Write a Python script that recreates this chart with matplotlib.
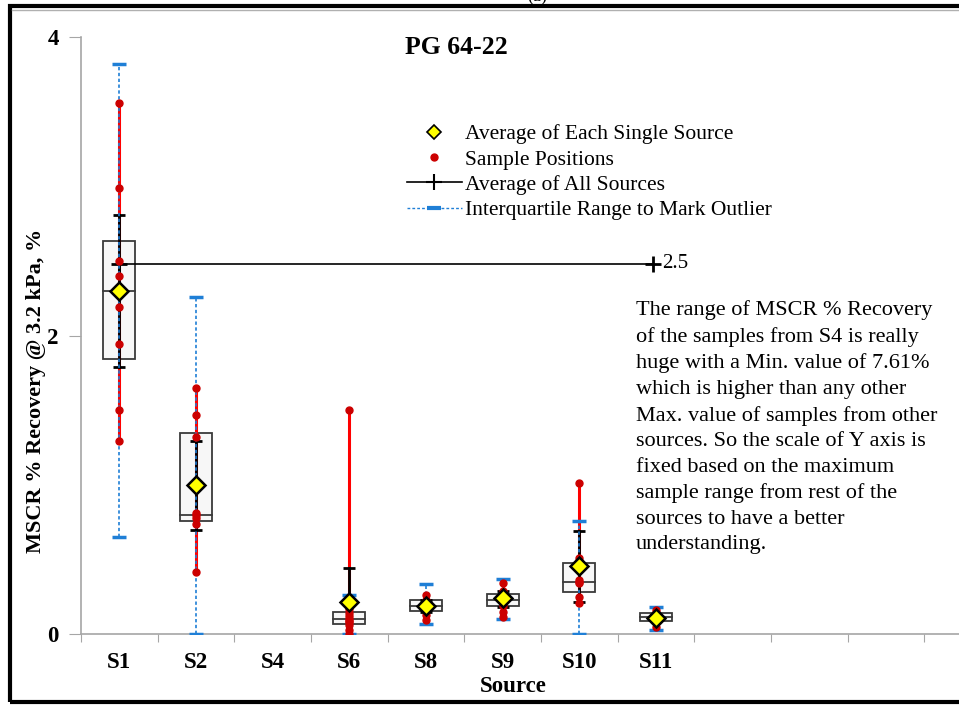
import matplotlib.pyplot as plt
from matplotlib.patches import Rectangle
from matplotlib.lines import Line2D

plt.rcParams['font.family'] = ['Liberation Serif', 'DejaVu Serif']

# categories (12 slots on the axis, only the first 8 are labelled)
sources = ['S1', 'S2', 'S4', 'S6', 'S8', 'S9', 'S10', 'S11', '', '', '', '']

# sample values
s1 = [3.56, 2.99, 2.50, 2.40, 2.30, 2.19, 1.94, 1.50, 1.29]
s2 = [1.65, 1.47, 1.32, 0.81, 0.80, 0.78, 0.74, 0.415]
s4 = []
s6 = [1.50, 0.17, 0.14, 0.12, 0.10, 0.09, 0.08, 0.06, 0.03, 0.0]
s8 = [0.26, 0.23, 0.21, 0.19, 0.18, 0.16, 0.13, 0.094]
s9 = [0.34, 0.29, 0.26, 0.25, 0.23, 0.21, 0.19, 0.15, 0.115]
s10 = [1.01, 0.51, 0.48, 0.36, 0.35, 0.34, 0.25, 0.21]
s11 = [0.16, 0.14, 0.12, 0.11, 0.10, 0.08, 0.05]
samples = [s1, s2, s4, s6, s8, s9, s10, s11]

q1 = [1.84, 0.76, None, 0.067, 0.154, 0.188, 0.28, 0.087]
median = [2.30, 0.80, None, 0.10, 0.188, 0.228, 0.35, 0.113]
q3 = [2.63, 1.35, None, 0.147, 0.228, 0.268, 0.475, 0.14]
avg = [2.30, 1.00, None, 0.215, 0.19, 0.24, 0.456, 0.11]
whisk_lo = [1.79, 0.70, None, 0.0, 0.15, 0.18, 0.215, 0.09]
whisk_hi = [2.81, 1.29, None, 0.44, 0.23, 0.29, 0.69, 0.13]
fence_lo = [0.65, 0.0, None, 0.0, 0.067, 0.10, 0.0, 0.03]
fence_hi = [3.82, 2.26, None, 0.26, 0.335, 0.367, 0.76, 0.18]
avg_all = 2.48
avg_all_x = [1, 7.96]

note = ("The range of MSCR % Recovery\n"
        "of the samples from S4 is really\n"
        "huge with a Min. value of 7.61%\n"
        "which is higher than any other\n"
        "Max. value of samples from other\n"
        "sources. So the scale of Y axis is\n"
        "fixed based on the maximum\n"
        "sample range from rest of the\n"
        "sources to have a better\n"
        "understanding.")

W, H = 959, 706
fig = plt.figure(figsize=(W / 100, H / 100), dpi=100)
ax = fig.add_axes([81 / W, (H - 634) / H, (1001 - 81) / W, (634 - 37) / H])

blue = '#1f7fd6'
bw = 0.42
for i, s in enumerate(samples):
    if not s:
        continue
    x = i + 1
    ax.add_patch(Rectangle((x - bw / 2, q1[i]), bw, q3[i] - q1[i],
                           fc='#f7f7f7', ec='#3a3a3a', lw=1.3, zorder=2))
    ax.plot([x - bw / 2, x + bw / 2], [median[i]] * 2, color='#3a3a3a', lw=1.3, zorder=2)
    ax.plot([x, x], [min(s), max(s)], color='#ff0000', lw=2.2, zorder=3)
    ax.plot([x, x], [whisk_lo[i], whisk_hi[i]], color='black', lw=2, zorder=4)
    ax.plot([x, x], [whisk_lo[i], whisk_hi[i]], ls='none', marker='_',
            color='black', ms=9, mew=2, zorder=4)
    ax.plot([x, x], [fence_lo[i], fence_hi[i]], color=blue, lw=1.2,
            ls=(0, (2, 1.5)), zorder=5)
    ax.plot([x, x], [fence_lo[i], fence_hi[i]], ls='none', marker='_',
            color=blue, ms=10, mew=2.5, zorder=5)
    ax.plot([x] * len(s), s, 'o', color='#cc0000', ms=5, zorder=6)
    ax.plot(x, avg[i], 'D', mfc='#ffff00', mec='black', mew=1.8, ms=9.5, zorder=7)

ax.plot(avg_all_x, [avg_all] * 2, color='black', lw=1.2, marker='+',
        ms=11, mew=2, zorder=4)
ax.text(avg_all_x[1] + 0.12, avg_all, '2.5', va='center', fontsize=15)

ax.set_xlim(0.5, len(sources) + 0.5)
ax.set_ylim(0, 4)
ax.set_xticks([k + 0.5 for k in range(len(sources) + 1)])
ax.set_xticklabels([])
ax.set_xticks(range(1, len(sources) + 1), minor=True)
ax.set_xticklabels(sources, minor=True, fontweight='bold', fontsize=16.5)
ax.tick_params(axis='x', which='major', length=6, color='#a6a6a6')
ax.tick_params(axis='x', which='minor', length=0, pad=13)
ax.set_yticks([0, 2, 4])
ax.set_yticklabels(['0', '2', '4'], fontweight='bold', fontsize=16.5)
ax.tick_params(axis='y', length=9, color='#a6a6a6', pad=7)
for side in ['top', 'right']:
    ax.spines[side].set_visible(False)
for side in ['left', 'bottom']:
    ax.spines[side].set_color('#a6a6a6')
    ax.spines[side].set_linewidth(1.2)

fig.text(456 / W, (H - 48) / H, 'PG 64-22', ha='center', va='center',
         fontsize=18.5, fontweight='bold')
fig.text(36 / W, (H - 391) / H, 'MSCR % Recovery @ 3.2 kPa, %', rotation=90,
         ha='center', va='center', fontsize=16, fontweight='bold')
fig.text(513 / W, (H - 686) / H, 'Source', ha='center', va='center',
         fontsize=16.5, fontweight='bold')
fig.text(636 / W, (H - 300) / H, note, ha='left', va='top', fontsize=16,
         linespacing=1.46)
fig.text(537 / W, (H - 1) / H, '(a)', ha='center', va='baseline', fontsize=13)

handles = [
    Line2D([], [], ls='none', marker='D', mfc='#ffff00', mec='black', mew=1.2, ms=7.5),
    Line2D([], [], ls='none', marker='o', color='#cc0000', ms=5),
    Line2D([], [], color='black', lw=1.2, marker='+', ms=12, mew=1.5),
    Line2D([], [], color=blue, lw=1, ls=(0, (2, 1.5)), marker='_', ms=10, mew=3),
]
labels = ['Average of Each Single Source', 'Sample Positions',
          'Average of All Sources', 'Interquartile Range to Mark Outlier']
fig.legend(handles, labels, loc='upper left', bbox_to_anchor=(407 / W, (H - 124) / H),
           frameon=False, fontsize=15.5, borderpad=0, borderaxespad=0,
           handlelength=2.55, handletextpad=0.14, labelspacing=0.25)

# outer frame of the figure
fig.add_artist(Rectangle((10 / W, 4 / H), 2000 / W, (H - 10) / H, fill=False,
                         ec='black', lw=3, transform=fig.transFigure, clip_on=False))
fig.add_artist(Line2D([12 / W, 1], [(H - 9.5) / H] * 2, color='#b0b0b0', lw=1,
                      transform=fig.transFigure))

fig.savefig('out.png', dpi=100)
